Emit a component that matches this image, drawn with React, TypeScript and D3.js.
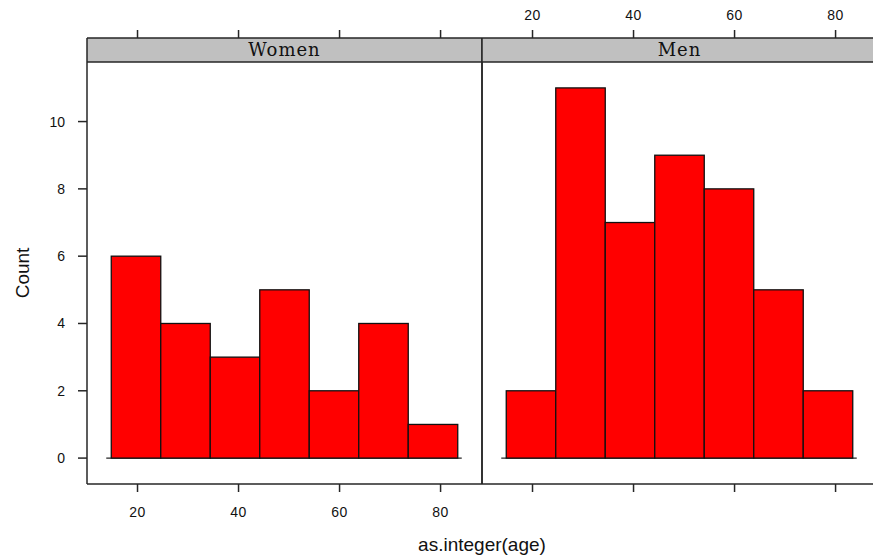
import React from "react";
import * as d3 from "d3";

// histogram breaks (age) shared by both panels
const binEdges = [14.8, 24.6, 34.4, 44.2, 54.0, 63.8, 73.6, 83.4];
const panels = ["Women", "Men"];
const womenCounts = [6, 4, 3, 5, 2, 4, 1];
const menCounts = [2, 11, 7, 9, 8, 5, 2];
const xTicks = [20, 40, 60, 80];
const yTicks = [0, 2, 4, 6, 8, 10];

const W = 873;
const H = 560;
const left = 87;
const panelW = 395;
const top = 38;
const stripH = 24;
const bottom = 484;
const axisColor = "#262626";
const sans = "'Liberation Sans', Arial, sans-serif";

export default function App() {
  const lo = binEdges[0];
  const hi = binEdges[binEdges.length - 1];
  const ext = 0.07 * (hi - lo);
  const maxCount = d3.max([...womenCounts, ...menCounts]) as number;

  const y = d3
    .scaleLinear()
    .domain([-0.07 * maxCount, maxCount * 1.07])
    .range([bottom, top + stripH]);

  const counts = [womenCounts, menCounts];

  return (
    <svg width={W} height={H} style={{ position: "absolute", left: 0, top: 0 }}>
      <rect width={W} height={H} fill="#fff" />
      {panels.map((name, p) => {
        const x0 = left + p * panelW;
        const x = d3.scaleLinear().domain([lo - ext, hi + ext]).range([x0, x0 + panelW]);
        const bins = d3.pairs(binEdges).map(([a, b], i) => ({ a, b, n: counts[p][i] }));
        return (
          <g key={name}>
            {/* baseline */}
            <line
              x1={x(lo) - 5}
              x2={x(hi) + 4}
              y1={y(0)}
              y2={y(0)}
              stroke={axisColor}
              strokeWidth={1.3}
            />
            {bins.map((d, i) => (
              <rect
                key={i}
                x={x(d.a)}
                y={y(d.n)}
                width={x(d.b) - x(d.a)}
                height={y(0) - y(d.n)}
                fill="#ff0000"
                stroke="#111"
                strokeWidth={1.3}
              />
            ))}
            {/* strip */}
            <rect x={x0} y={top} width={panelW} height={stripH} fill="#c0c0c0" />
            <text
              x={x0 + panelW / 2}
              y={top + 18}
              textAnchor="middle"
              fontFamily="'DejaVu Serif', serif"
              fontSize={18}
              letterSpacing={1}
              fill="#111"
            >
              {name}
            </text>
            <line x1={x0} x2={x0 + panelW} y1={top} y2={top} stroke={axisColor} strokeWidth={1.5} />
            <line x1={x0} x2={x0 + panelW} y1={top + stripH} y2={top + stripH} stroke={axisColor} strokeWidth={1.5} />
            <line x1={x0} x2={x0 + panelW} y1={bottom} y2={bottom} stroke={axisColor} strokeWidth={1.5} />
            <line x1={x0} x2={x0} y1={top} y2={bottom} stroke={axisColor} strokeWidth={1.5} />
            <line x1={x0 + panelW} x2={x0 + panelW} y1={top} y2={bottom} stroke={axisColor} strokeWidth={1.5} />
            {/* x ticks top and bottom */}
            {xTicks.map((t) => (
              <g key={t}>
                <line x1={x(t)} x2={x(t)} y1={top} y2={top - 8} stroke={axisColor} strokeWidth={1.5} />
                <line x1={x(t)} x2={x(t)} y1={bottom} y2={bottom + 8} stroke={axisColor} strokeWidth={1.5} />
                {p === 0 ? (
                  <text x={x(t)} y={bottom + 33} textAnchor="middle" fontFamily={sans} fontSize={14} letterSpacing={0.5} fill="#111">
                    {t}
                  </text>
                ) : (
                  <text x={x(t)} y={20} textAnchor="middle" fontFamily={sans} fontSize={14} letterSpacing={0.5} fill="#111">
                    {t}
                  </text>
                )}
              </g>
            ))}
          </g>
        );
      })}
      {/* y axis */}
      {yTicks.map((t) => (
        <g key={t}>
          <line x1={left} x2={left - 9} y1={y(t)} y2={y(t)} stroke={axisColor} strokeWidth={1.5} />
          <text x={left - 22} y={y(t) + 5} textAnchor="end" fontFamily={sans} fontSize={14} fill="#111">
            {t}
          </text>
        </g>
      ))}
      <text
        transform={`translate(29,${(top + stripH + bottom) / 2}) rotate(-90)`}
        textAnchor="middle"
        fontFamily={sans}
        fontSize={19}
        fill="#111"
      >
        Count
      </text>
      <text x={left + panelW} y={551} textAnchor="middle" fontFamily={sans} fontSize={19} fill="#111">
        as.integer(age)
      </text>
    </svg>
  );
}
